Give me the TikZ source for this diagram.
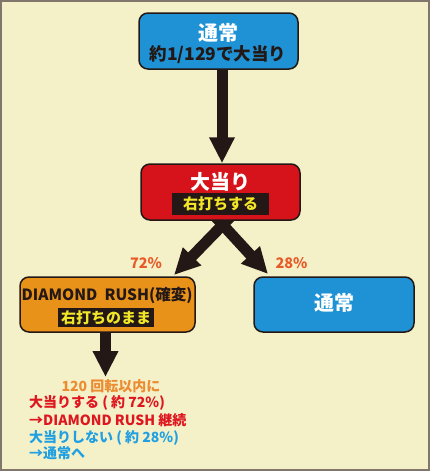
\documentclass[tikz,border=0pt]{standalone}
\usepackage{fontspec}
\setmainfont{Noto Sans CJK JP}
\usepackage{tikz}
\usetikzlibrary{arrows.meta,positioning,backgrounds}
\definecolor{cream}{RGB}{244,241,200}
\definecolor{framegray}{RGB}{128,118,108}
\definecolor{ink}{RGB}{35,24,21}
\definecolor{boxblue}{RGB}{30,146,212}
\definecolor{boxred}{RGB}{214,18,26}
\definecolor{boxorange}{RGB}{233,146,26}
\definecolor{pcorange}{RGB}{232,90,40}
\definecolor{txtorange}{RGB}{236,140,50}
\definecolor{txtred}{RGB}{222,22,32}
\definecolor{txtblue}{RGB}{32,160,226}
\definecolor{bandyellow}{RGB}{242,230,40}
\tikzstyle{flowbox}=[draw=ink,line width=1.5pt,rounded corners=9pt,inner sep=0pt]
\tikzstyle{boxtitle}=[inner sep=0pt,text=white,font=\bfseries\fontsize{20}{21}\selectfont]
\tikzstyle{boxtext}=[inner sep=0pt,text=ink,font=\bfseries\fontsize{17.5}{18}\selectfont]
\tikzstyle{band}=[fill=ink,text=bandyellow,inner sep=0pt,font=\bfseries\fontsize{15}{16}\selectfont]
\tikzstyle{pct}=[inner sep=0pt,text=pcorange,font=\bfseries\fontsize{14.5}{15}\selectfont]
\tikzstyle{note}=[anchor=west,inner sep=0pt,font=\bfseries\fontsize{14}{15}\selectfont]
\tikzstyle{fatarrow}=[ink,line width=11pt,-{Triangle[width=24pt,length=26pt]}]

\begin{document}
\begin{tikzpicture}[x=1pt,y=-1pt]
    \useasboundingbox (0,0) rectangle (430,471);
    % boxes
    \node [flowbox,fill=boxblue,minimum width=159pt,minimum height=56pt] (normal) at (218.5,41) {};
    \node [flowbox,fill=boxred,minimum width=159pt,minimum height=56pt] (hit) at (220.5,192) {};
    \node [flowbox,fill=boxorange,minimum width=175pt,minimum height=55pt] (rush) at (107.5,304.5) {};
    \node [flowbox,fill=boxblue,minimum width=160pt,minimum height=55pt] (back) at (334,304.5) {};
    % box texts
    \node [boxtitle] (normaltitle) at (218.5,33) {通常};
    \node [boxtext] (normalodds) at (218,55) {約1/129で大当り};
    \node [boxtitle] (hittitle) at (220.5,182) {大当り};
    \node [band,minimum width=97pt,minimum height=22pt] (hitband) at (220.5,204) {右打ちする};
    \node [boxtext,font=\bfseries\fontsize{15.5}{16}\selectfont] (rushtitle) at (107,295) {DIAMOND\ \ RUSH(確変)};
    \node [band,minimum width=96pt,minimum height=19pt] (rushband) at (106,317.5) {右打ちのまま};
    \node [boxtitle] (backtitle) at (334,303) {通常};
    \node [pct] (pctrush) at (146,263) {72\%};
    \node [pct] (pctback) at (291.5,263) {28\%};
    % notes
    \node [note,anchor=center,text=txtorange] (within) at (111,386) {120\ 回転以内に};
    \node [note,text=txtred] (hityes) at (29,403) {大当りする ( 約 72\%)};
    \node [note,text=txtred] (hitkeep) at (29,420) {→DIAMOND RUSH 継続};
    \node [note,text=txtblue] (hitno) at (29,438) {大当りしない ( 約 28\%)};
    \node [note,text=txtblue] (hitback) at (29,453) {→通常へ};
    \coordinate (tiprush) at (174,275);
    \coordinate (tipback) at (268,274);
    \coordinate (tipnote) at (105.5,377);
    \begin{pgfonlayer}{background}
      \fill [cream] (0,0) rectangle (430,471);
      \draw [fatarrow] ([xshift=3.5pt]normal.south) -- ([xshift=1.5pt]hit.north);
      \draw [fatarrow] ([xshift=12pt,yshift=6pt]hit.south) -- (tiprush);
      \draw [fatarrow] ([xshift=-7pt,yshift=6pt]hit.south) -- (tipback);
      \draw [fatarrow] ([xshift=-2pt]rush.south) -- (tipnote);
    \end{pgfonlayer}
    \draw [framegray,line width=2pt] (1,1) rectangle (429,470);
\end{tikzpicture}
\end{document}
